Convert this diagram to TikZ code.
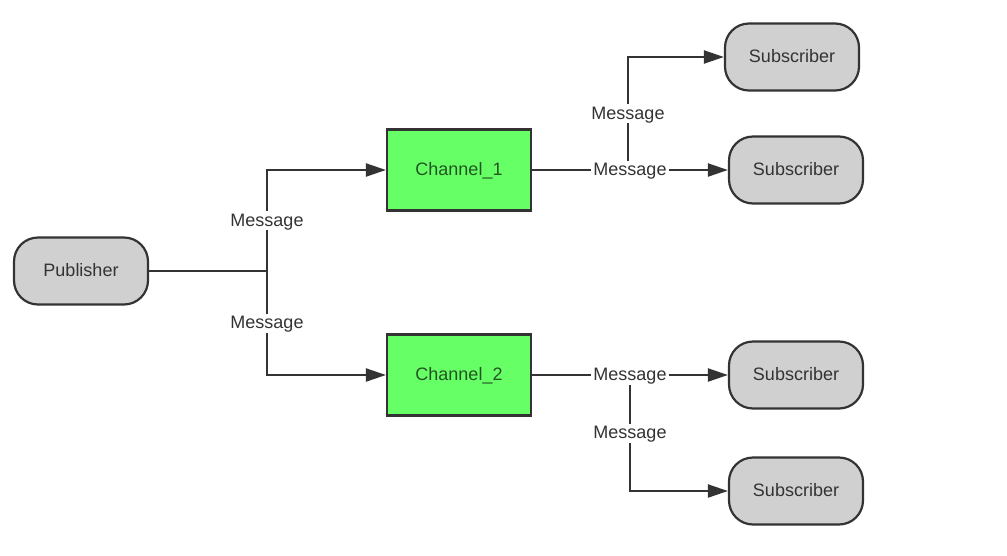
\documentclass[tikz,border=0pt]{standalone}
\usepackage{fontspec}
\setmainfont{Liberation Sans}
\usetikzlibrary{arrows.meta}
\definecolor{ln}{RGB}{51,51,51}
\definecolor{gr}{RGB}{208,208,208}
\definecolor{gn}{RGB}{102,255,102}
\definecolor{gt}{RGB}{35,85,35}
\tikzset{
  actor/.style={draw=ln, line width=2.2pt, fill=gr, rounded corners=24pt, minimum width=134pt, minimum height=67pt, text=ln, font=\fontsize{18}{21}\selectfont, inner sep=0pt, text height=13pt, text depth=2pt},
  chan/.style={draw=ln, line width=2.2pt, fill=gn, minimum width=144pt, minimum height=81pt, text=gt, font=\fontsize{18}{21}\selectfont, inner sep=0pt, text height=13pt, text depth=2pt},
  conn/.style={draw=ln, line width=2.2pt, -{Triangle[length=20pt,width=13pt]}},
  lbl/.style={fill=white, text=ln, font=\fontsize{18}{21}\selectfont, inner sep=2pt, text height=13pt, text depth=2pt}
}
\begin{document}
\begin{tikzpicture}[x=1pt,y=-1pt]
\useasboundingbox (0,0) rectangle (1007,555);
\node[actor] (pub) at (81,271) {Publisher};
\node[chan] (c1) at (459,170) {Channel\_1};
\node[chan] (c2) at (459,375) {Channel\_2};
\node[actor] (s1) at (792,57) {Subscriber};
\node[actor] (s2) at (796,170) {Subscriber};
\node[actor] (s3) at (796,375) {Subscriber};
\node[actor] (s4) at (796,491) {Subscriber};
\coordinate (j) at (267,271);
% publisher to channels
\draw[conn] (pub.east) -- (j) |- node[lbl, pos=0.25] {Message} (c1.west);
\draw[conn] (pub.east) -- (j) |- node[lbl, pos=0.25] {Message} (c2.west);
% channel 1
\coordinate (b1) at (628,170);
\draw[conn] (c1.east) -- (b1) |- node[lbl, pos=0.25] {Message} (s1.west);
\draw[conn] (c1.east) -- node[lbl, pos=0.5] {Message} (s2.west);
% channel 2
\coordinate (b2) at (630,375);
\draw[conn] (c2.east) -- (b2) |- node[lbl, pos=0.25] {Message} (s4.west);
\draw[conn] (c2.east) -- node[lbl, pos=0.5] {Message} (s3.west);
\end{tikzpicture}
\end{document}
